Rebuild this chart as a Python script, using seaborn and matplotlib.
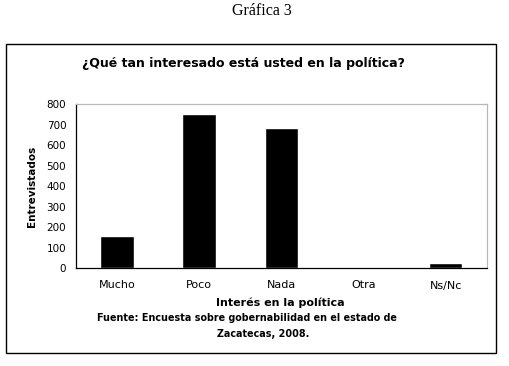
import matplotlib
matplotlib.use("Agg")
import matplotlib.pyplot as plt
from matplotlib.patches import Rectangle
import seaborn as sns
import numpy as np
import pandas as pd

# datos de la grafica
categorias = ["Mucho", "Poco", "Nada", "Otra", "Ns/Nc"]
entrevistados = [155, 750, 685, 0, 25]
yticks = [0, 100, 200, 300, 400, 500, 600, 700, 800]

df = pd.DataFrame({"interes": categorias, "n": entrevistados})

sns.set_style("white")
plt.rcParams["font.family"] = ["DejaVu Sans"]
plt.rcParams["text.color"] = "black"
plt.rcParams["axes.labelcolor"] = "black"
plt.rcParams["xtick.color"] = "black"
plt.rcParams["ytick.color"] = "black"

W, H = 509, 366
fig = plt.figure(figsize=(W / 100, H / 100), dpi=100)
ax = fig.add_axes([76 / W, 1 - 268 / H, (486.7 - 76) / W, (268 - 104) / H])

sns.barplot(data=df, x="interes", y="n", color="black", width=0.41,
            saturation=1, ax=ax)

ax.set_xlim(-0.5, 4.5)
ax.set_ylim(0, 800)
ax.set_yticks(yticks)
ax.set_yticklabels([str(v) for v in yticks], fontsize=7.5)
ax.set_xticks(range(len(categorias)))
ax.set_xticklabels(categorias, fontsize=8)
ax.set_xticks(np.arange(-0.5, 5, 1), minor=True)
ax.tick_params(axis="x", which="major", length=0, pad=9, labelcolor="black")
ax.tick_params(axis="x", which="minor", length=4, width=0.8, color="black", direction="out")
ax.tick_params(axis="y", length=4, width=0.8, color="black", direction="out", pad=3,
               labelcolor="black")
ax.set_xlabel("")
ax.set_ylabel("Entrevistados", fontsize=7.5, fontweight="bold", labelpad=7, color="black")

for s in ["left", "bottom"]:
    ax.spines[s].set_color("black")
    ax.spines[s].set_linewidth(0.9)
for s in ["top", "right"]:
    ax.spines[s].set_color("#b8b8b8")
    ax.spines[s].set_linewidth(0.9)

# textos fuera del area de trazado
fig.text(262 / W, 1 - 11 / H, "Gráfica 3", ha="center", va="center",
         fontsize=11.5, family=["Liberation Serif", "DejaVu Serif"])
fig.text(243 / W, 1 - 63 / H, "¿Qué tan interesado está usted en la política?",
         ha="center", va="center", fontsize=9, fontweight="bold")
fig.text(280 / W, 1 - 303 / H, "Interés en la política", ha="center", va="center",
         fontsize=8, fontweight="bold")
fig.text(247 / W, 1 - 318 / H, "Fuente: Encuesta sobre gobernabilidad en el estado de",
         ha="center", va="center", fontsize=6.9, fontweight="bold")
fig.text(263 / W, 1 - 334 / H, "Zacatecas, 2008.", ha="center", va="center",
         fontsize=6.9, fontweight="bold")

# marco exterior
fig.patches.append(Rectangle((6 / W, 1 - 353 / H), (496 - 6) / W, (353 - 44) / H,
                             transform=fig.transFigure, fill=False,
                             edgecolor="black", linewidth=1.0))

fig.savefig("out.png", dpi=100)
